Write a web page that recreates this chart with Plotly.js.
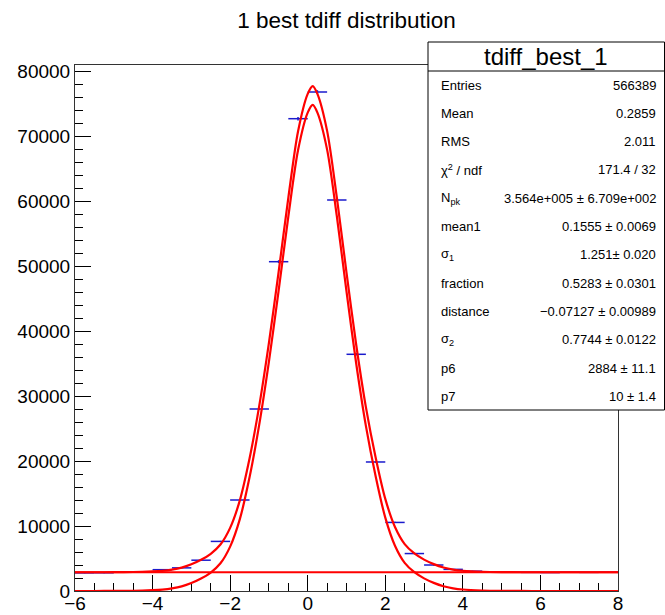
<!DOCTYPE html>
<html>
<head>
<meta charset="utf-8">
<script src="https://cdn.plot.ly/plotly-3.0.1.min.js"></script>
<style>html,body{margin:0;padding:0;background:#fff;}#chart{width:665px;height:615px;}</style>
</head>
<body>
<div id="chart"></div>
<script>
// ---- data ----
const chartTitle = "1 best tdiff distribution";
const statsTitle = "tdiff_best_1";

// histogram (bin width 0.5)
const binCenters = [-5.75,-5.25,-4.75,-4.25,-3.75,-3.25,-2.75,-2.25,-1.75,-1.25,-0.75,-0.25,
                    0.25,0.75,1.25,1.75,2.25,2.75,3.25,3.75,4.25,4.75,5.25,5.75,6.25,6.75,7.25,7.75];
const binCounts  = [2780,2800,2890,2950,3280,3560,4740,7630,14000,28000,50662,72662,
                    76769,60154,36415,19850,10550,5760,4000,3330,3050,2900,2880,2870,2840,2880,2870,2900];
const binHalfWidth = 0.25;

// fit curves
const fitX     = [-6,-5.5,-5,-4.5,-4,-3.75,-3.5,-3.25,-3,-2.75,-2.5,-2.25,-2,-1.75,-1.5,-1.25,-1,-0.75,-0.5,-0.25,
                  0,0.13,0.25,0.5,0.75,1,1.25,1.5,1.75,2,2.25,2.5,2.75,3,3.25,3.5,3.75,4,4.5,5,5.5,6,7,8];
const fitTotal = [2884,2886,2893,2922,3019,3109,3289,3594,4104,4794,5727,7148,9717,13944,20371,28484,38184,49084,60484,70684,
                  76484,77684,76484,70784,60584,48984,37884,28284,20584,14174,9851,7216,5774,4824,4134,3620,3298,3117,2959,2902,2888,2885,2884,2884];
const fitSignal= [0,2,9,38,135,225,405,710,1220,1910,2843,4264,6833,11060,17487,25600,35300,46200,57600,67800,
                  73600,74800,73600,67900,57700,46100,35000,25400,17700,11290,6967,4332,2890,1940,1250,736,414,233,75,18,4,1,0,0];
const bkgX = [-6, 8];
const bkgY = [2884, 2884];

// stats box
const statLabels = ["Entries","Mean","RMS","χ<sup>2</sup> / ndf","N<sub>pk</sub>","mean1","σ<sub>1</sub>",
                    "fraction","distance","σ<sub>2</sub>","p6","p7"];
const statValues = ["566389","0.2859","2.011","171.4 / 32","3.564e+005 ± 6.709e+002","0.1555 ± 0.0069",
                    "1.251± 0.020","0.5283 ± 0.0301","−0.07127 ± 0.00989","0.7744 ± 0.0122","2884 ± 11.1","10 ± 1.4"];

const xTickVals = [-6,-4,-2,0,2,4,6,8];
const yTickVals = [0,10000,20000,30000,40000,50000,60000,70000,80000];

// ---- layout geometry (pixels) ----
const W = 665, H = 615;
const M = {l:75, r:47, t:65, b:24};
const PW = W - M.l - M.r, PH = H - M.t - M.b;
const px2x = px => (px - M.l) / PW;
const py2y = py => (H - M.b - py) / PH;
const FONT = '"Liberation Sans", Arial, Helvetica, sans-serif';

const histColor = '#1a1acc';
const fitColor = '#ff0000';

const traces = [
  {
    x: binCenters, y: binCounts, type: 'scatter', mode: 'markers',
    marker: {size: 1, color: 'rgba(0,0,0,0)'},
    error_x: {type: 'constant', value: binHalfWidth, width: 0, thickness: 1.5, color: histColor},
    error_y: {type: 'sqrt', width: 0, thickness: 1.5, color: histColor},
    hoverinfo: 'skip', showlegend: false
  },
  {
    x: bkgX, y: bkgY, type: 'scatter', mode: 'lines',
    line: {color: fitColor, width: 2.2}, showlegend: false, hoverinfo: 'skip'
  },
  {
    x: fitX, y: fitSignal, type: 'scatter', mode: 'lines',
    line: {color: fitColor, width: 2.2, shape: 'spline', smoothing: 0.8}, showlegend: false, hoverinfo: 'skip'
  },
  {
    x: fitX, y: fitTotal, type: 'scatter', mode: 'lines',
    line: {color: fitColor, width: 2.2, shape: 'spline', smoothing: 0.8}, showlegend: false, hoverinfo: 'skip'
  }
];

// stats box shapes + annotations
const boxL = 428, boxR = 664.5, boxT = 42, boxB = 410, boxSep = 71;
const shapes = [
  {type: 'rect', xref: 'paper', yref: 'paper', x0: px2x(boxL), x1: px2x(boxR), y0: py2y(boxB), y1: py2y(boxT),
   line: {color: '#000', width: 1}, fillcolor: '#fff', layer: 'above'},
  {type: 'line', xref: 'paper', yref: 'paper', x0: px2x(boxL), x1: px2x(boxR), y0: py2y(boxSep), y1: py2y(boxSep),
   line: {color: '#000', width: 1}, layer: 'above'}
];
const annotations = [
  {text: statsTitle, xref: 'paper', yref: 'paper', x: px2x((boxL + boxR) / 2), y: py2y(56.5),
   xanchor: 'center', yanchor: 'middle', showarrow: false, font: {family: FONT, size: 24, color: '#000'}}
];
const rowTop = 85, rowStep = 28.3;
statLabels.forEach((lab, i) => {
  const yy = py2y(rowTop + i * rowStep);
  annotations.push({text: lab, xref: 'paper', yref: 'paper', x: px2x(439), y: yy, xanchor: 'left', yanchor: 'middle',
    showarrow: false, font: {family: FONT, size: 13, color: '#000'}});
  annotations.push({text: statValues[i], xref: 'paper', yref: 'paper', x: px2x(658), y: yy, xanchor: 'right', yanchor: 'middle',
    showarrow: false, font: {family: FONT, size: 13, color: '#000'}});
});

const layout = {
  width: W, height: H,
  margin: M,
  paper_bgcolor: '#fff', plot_bgcolor: '#fff',
  font: {family: FONT, color: '#000'},
  title: {text: chartTitle, font: {family: FONT, size: 22.5, color: '#000'},
          xref: 'paper', x: 0.5, xanchor: 'center', yref: 'container', y: 1 - 20 / H, yanchor: 'middle'},
  xaxis: {
    range: [-6, 8], showgrid: false, zeroline: false,
    showline: true, mirror: true, linecolor: '#333', linewidth: 1,
    tickmode: 'array', tickvals: xTickVals,
    ticks: 'inside', ticklen: 16, tickwidth: 1, tickcolor: '#000',
    minor: {dtick: 0.5, tick0: -6, ticks: 'inside', ticklen: 8, tickwidth: 1, tickcolor: '#000', showgrid: false},
    tickfont: {family: FONT, size: 19, color: '#000'},
    ticklabelstandoff: -5,
    layer: 'below traces', fixedrange: true
  },
  yaxis: {
    range: [0, (H - M.b - M.t) / 0.0065], showgrid: false, zeroline: false,
    showline: true, mirror: true, linecolor: '#333', linewidth: 1,
    tickmode: 'array', tickvals: yTickVals, tickformat: 'd',
    ticks: 'inside', ticklen: 16, tickwidth: 1, tickcolor: '#000',
    minor: {dtick: 2000, tick0: 0, ticks: 'inside', ticklen: 8, tickwidth: 1, tickcolor: '#000', showgrid: false},
    tickfont: {family: FONT, size: 19, color: '#000'},
    layer: 'below traces', fixedrange: true
  },
  shapes: shapes,
  annotations: annotations,
  showlegend: false
};

Plotly.newPlot('chart', traces, layout, {displayModeBar: false, staticPlot: true});
</script>
</body>
</html>
